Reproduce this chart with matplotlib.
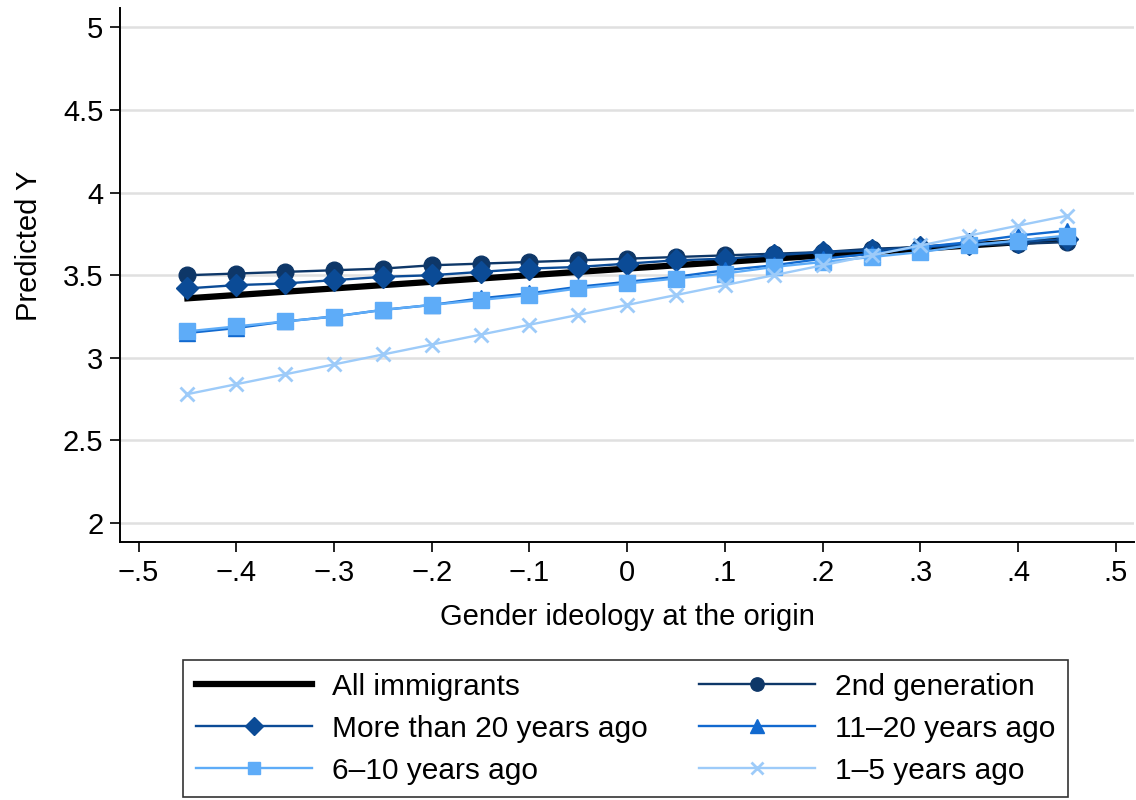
import matplotlib
matplotlib.use("Agg")
import matplotlib.pyplot as plt

plt.rcParams['font.family'] = ['Liberation Sans', 'DejaVu Sans']

# valeurs
x_vals = [-0.45, -0.40, -0.35, -0.30, -0.25, -0.20, -0.15, -0.10, -0.05, 0.0,
          0.05, 0.10, 0.15, 0.20, 0.25, 0.30, 0.35, 0.40, 0.45]

all_imm = [3.36, 3.38, 3.40, 3.42, 3.44, 3.46, 3.48, 3.50, 3.52, 3.54,
           3.56, 3.58, 3.60, 3.62, 3.64, 3.66, 3.68, 3.70, 3.72]
gen2 = [3.50, 3.51, 3.52, 3.53, 3.54, 3.56, 3.57, 3.58, 3.59, 3.60,
        3.61, 3.62, 3.63, 3.64, 3.66, 3.67, 3.68, 3.69, 3.70]
more20 = [3.42, 3.44, 3.45, 3.47, 3.49, 3.50, 3.52, 3.54, 3.55, 3.57,
          3.59, 3.60, 3.62, 3.64, 3.65, 3.67, 3.69, 3.70, 3.72]
y11_20 = [3.15, 3.18, 3.22, 3.25, 3.29, 3.32, 3.36, 3.39, 3.43, 3.46,
          3.49, 3.53, 3.56, 3.60, 3.63, 3.67, 3.70, 3.74, 3.77]
y6_10 = [3.16, 3.19, 3.22, 3.25, 3.29, 3.32, 3.35, 3.38, 3.42, 3.45,
         3.48, 3.51, 3.55, 3.58, 3.61, 3.64, 3.68, 3.71, 3.74]
y1_5 = [2.78, 2.84, 2.90, 2.96, 3.02, 3.08, 3.14, 3.20, 3.26, 3.32,
        3.38, 3.44, 3.50, 3.56, 3.62, 3.68, 3.74, 3.80, 3.86]

x_ticks = [-0.5, -0.4, -0.3, -0.2, -0.1, 0.0, 0.1, 0.2, 0.3, 0.4, 0.5]
x_ticklabels = ['\u2212.5', '\u2212.4', '\u2212.3', '\u2212.2', '\u2212.1', '0',
                '.1', '.2', '.3', '.4', '.5']
y_ticks = [2, 2.5, 3, 3.5, 4, 4.5, 5]
y_ticklabels = ['2', '2.5', '3', '3.5', '4', '4.5', '5']

fig = plt.figure(figsize=(11.36, 8), dpi=100)
ax = fig.add_axes([0.1056, 0.3225, 0.893, 0.667])

ax.plot(x_vals, all_imm, color='black', lw=4.5, label='All immigrants', zorder=3)
ax.plot(x_vals, gen2, color='#0e3768', lw=1.7, marker='o', ms=12,
        label='2nd generation', zorder=4)
ax.plot(x_vals, more20, color='#0b4b96', lw=1.7, marker='D', ms=11,
        label='More than 20 years ago', zorder=5)
ax.plot(x_vals, y11_20, color='#1169cf', lw=1.7, marker='^', ms=12,
        label='11\u201320 years ago', zorder=6)
ax.plot(x_vals, y6_10, color='#5eacf8', lw=1.7, marker='s', ms=11,
        label='6\u201310 years ago', zorder=7)
ax.plot(x_vals, y1_5, color='#9dcbf9', lw=1.7, marker='x', ms=10, mew=2,
        label='1\u20135 years ago', zorder=8)

ax.set_xlim(-0.519, 0.519)
ax.set_ylim(1.885, 5.115)
ax.set_xticks(x_ticks)
ax.set_xticklabels(x_ticklabels)
ax.set_yticks(y_ticks)
ax.set_yticklabels(y_ticklabels)
ax.tick_params(labelsize=21, length=7, width=1.2, direction='out', pad=5)
ax.grid(axis='y', color='#e0e0e0', lw=1.8)
ax.set_axisbelow(True)
for s in ['top', 'right']:
    ax.spines[s].set_visible(False)
for s in ['left', 'bottom']:
    ax.spines[s].set_linewidth(1.4)

ax.set_xlabel('Gender ideology at the origin', fontsize=21, labelpad=12)
ax.set_ylabel('Predicted Y', fontsize=21)
ax.yaxis.set_label_coords(-0.076, 0.555)

handles, labels = ax.get_legend_handles_labels()
order = [0, 2, 4, 1, 3, 5]
leg = fig.legend([handles[i] for i in order], [labels[i] for i in order],
                 loc='center', bbox_to_anchor=(0.551, 0.089), ncol=2,
                 fontsize=21.5, frameon=True, fancybox=False, edgecolor='black',
                 handlelength=3.9, handletextpad=0.67, columnspacing=1.7,
                 labelspacing=0.47, markerscale=0.8, borderpad=0.42)
leg.get_frame().set_linewidth(1.2)

plt.savefig('out.png', dpi=100)
